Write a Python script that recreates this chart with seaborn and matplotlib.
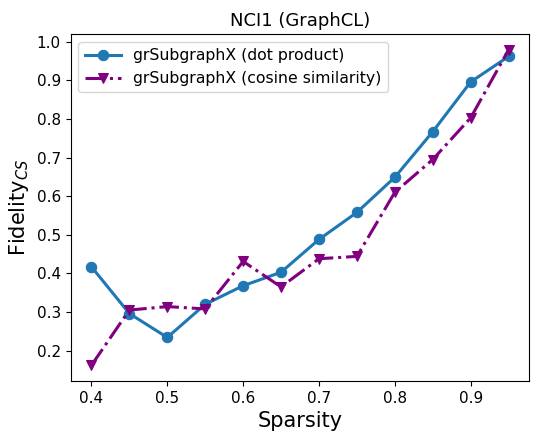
import matplotlib
matplotlib.use("Agg")
import matplotlib.pyplot as plt
import seaborn as sns
import pandas as pd

sparsity = [0.4, 0.45, 0.5, 0.55, 0.6, 0.65, 0.7, 0.75, 0.8, 0.85, 0.9, 0.95]
dot_product = [0.417, 0.296, 0.234, 0.320, 0.368, 0.403, 0.488, 0.558, 0.649, 0.767, 0.896, 0.962]
cosine_sim = [0.162, 0.305, 0.314, 0.308, 0.431, 0.365, 0.438, 0.444, 0.610, 0.695, 0.803, 0.979]
labels = ["grSubgraphX (dot product)", "grSubgraphX (cosine similarity)"]

fig, ax = plt.subplots(figsize=(5.43, 4.32), dpi=100)
sns.lineplot(x=sparsity, y=dot_product, ax=ax, color="#1f77b4", marker="o",
             markersize=7.5, linewidth=2.2, markeredgecolor="#1f77b4", label=labels[0])
sns.lineplot(x=sparsity, y=cosine_sim, ax=ax, color="purple", marker="v",
             markersize=7.5, linewidth=2.2, linestyle="-.", markeredgecolor="purple", label=labels[1])
ax.set_title("NCI1 (GraphCL)", fontsize=13)
ax.set_xlabel("Sparsity", fontsize=15)
ax.set_ylabel("Fidelity$_{CS}$", fontsize=15)
ax.set_yticks([0.2, 0.3, 0.4, 0.5, 0.6, 0.7, 0.8, 0.9, 1.0])
ax.set_xticks([0.4, 0.5, 0.6, 0.7, 0.8, 0.9])
ax.tick_params(labelsize=11)
ax.legend(loc="upper left", fontsize=11.3, handlelength=2.3)
fig.subplots_adjust(left=0.13, right=0.975, top=0.921, bottom=0.118)
fig.savefig("out.png", dpi=100)
